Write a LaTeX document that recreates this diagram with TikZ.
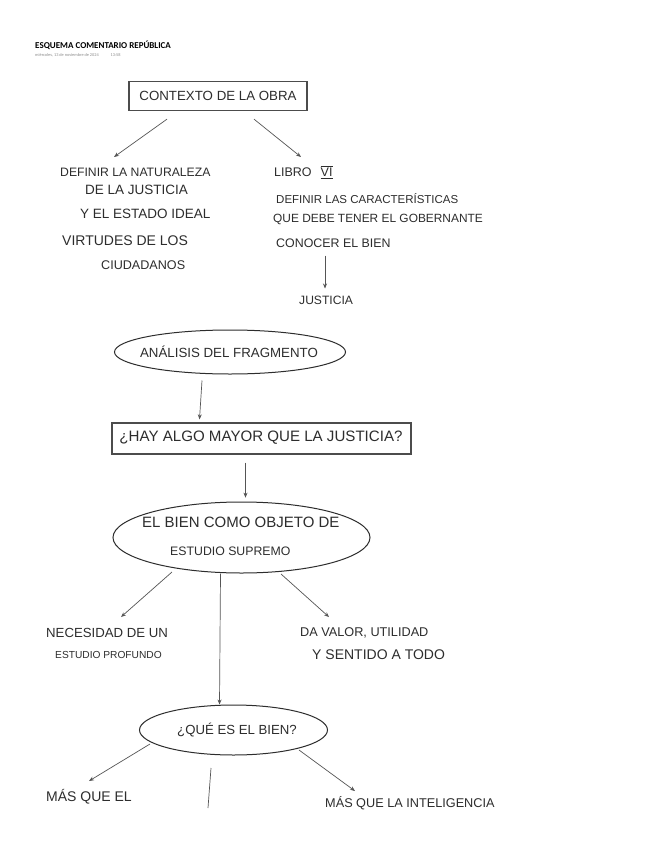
\documentclass[tikz,border=0pt]{standalone}
\usepackage{fontspec}
\setmainfont{Liberation Sans}
\newfontfamily\hdrfont{Carlito}
\usetikzlibrary{arrows.meta,shapes.geometric,calc}
\definecolor{ink}{RGB}{45,45,45}
\definecolor{lineink}{RGB}{85,85,85}
\begin{document}
\begin{tikzpicture}[x=1pt,y=-1pt,
  hand/.style={font=\fontsize{#1}{#1}\selectfont, text=ink, inner sep=0pt, anchor=west},
  hand/.default=12,
  conn/.style={draw=lineink, line width=0.7pt, -{Stealth[length=5pt,width=4pt]}},
  plain/.style={draw=lineink, line width=0.7pt},
  boxnode/.style={draw=ink!85, line width=1.3pt, inner sep=0pt},
  oval/.style={ellipse, draw=ink, line width=1pt, inner sep=0pt}]
\useasboundingbox[fill=white] (0,0) rectangle (655,848);

% header
\node[anchor=west, inner sep=0pt, font=\hdrfont\bfseries\fontsize{9}{9}\selectfont] (title) at (35,45) {ESQUEMA COMENTARIO REPÚBLICA};
\node[anchor=west, inner sep=0pt, text=black!45, font=\hdrfont\fontsize{4.3}{4.3}\selectfont] (date) at (35,55) {miércoles, 13 de noviembre de 2024\hspace{12pt}13:58};

% Contexto de la obra
\node[boxnode, minimum width=178, minimum height=29] (ctx) at (218,96) {};
\node[hand=13.3, anchor=center] (ctxt) at (218,96) {CONTEXTO DE LA OBRA};

\coordinate (lt) at (114,157);
\coordinate (rt) at (301,157);
\draw[conn] ($(ctx.south)+(-51,8)$) -- (lt);
\draw[conn] ($(ctx.south)+(36,8)$) -- (rt);

% left block
\node[hand=12.2] (defnat) at (60,172) {DEFINIR LA NATURALEZA};
\node[hand=13.5] (dejus) at (85,190) {DE LA JUSTICIA};
\node[hand=13.5] (yel) at (80,214) {Y EL ESTADO IDEAL};
\node[hand=14] (virt) at (62,241) {VIRTUDES DE LOS};
\node[hand=12.6] (ciud) at (101,265) {CIUDADANOS};

% right block
\node[hand=12.5] (libro) at (274,172) {LIBRO\hspace{9pt}\underline{$\overline{\hbox{VI}}$}};
\node[hand=11.5] (defcar) at (276,199) {DEFINIR LAS CARACTERÍSTICAS};
\node[hand=11.9] (que) at (273,219) {QUE DEBE TENER EL GOBERNANTE};
\node[hand=12.4] (conocer) at (276,243) {CONOCER EL BIEN};
\node[hand=12.1] (just) at (299,300) {JUSTICIA};
\draw[conn] ($(conocer.south west)+(49,8)$) -- ($(just.north west)+(26,-7)$);

% Analisis del fragmento
\node[oval, minimum width=231, minimum height=44] (ana) at (230,352) {};
\node[hand=13.3, anchor=center] (anat) at (229,352) {ANÁLISIS DEL FRAGMENTO};

% Hay algo mayor
\node[boxnode, minimum width=299, minimum height=31] (hay) at (261.5,438.5) {};
\node[hand=15.1, anchor=center] (hayt) at (261,438) {¿HAY ALGO MAYOR QUE LA JUSTICIA?};
\draw[conn] ($(ana.south)+(-28,6)$) -- ($(hay.north)+(-62,-3)$);
\draw[conn] ($(hay.south)+(-16,8)$) -- ($(hay.south)+(-16,43)$);

% El bien como objeto
\node[oval, minimum width=257, minimum height=71] (bien) at (241.5,537.5) {};
\node[hand=15] (bien1) at (142,522) {EL BIEN COMO OBJETO DE};
\node[hand=12.3] (bien2) at (170,551) {ESTUDIO SUPREMO};

% branches
\node[hand=13.2] (nec1) at (46,633) {NECESIDAD DE UN};
\node[hand=10.2] (nec2) at (55,655) {ESTUDIO PROFUNDO};
\node[hand=12.7] (da1) at (300,633) {DA VALOR, UTILIDAD};
\node[hand=14] (da2) at (312,655) {Y SENTIDO A TODO};
\coordinate (nt) at (121,617);
\coordinate (dt) at (329,617);
\draw[conn] (172,572) -- (nt);
\draw[conn] (281,574) -- (dt);

% Que es el bien
\node[oval, minimum width=188, minimum height=50] (qb) at (233.5,730) {};
\node[hand=13.2] (qbt) at (177,730) {¿QUÉ ES EL BIEN?};
\draw[conn] ($(bien.south)+(-21,0)$) -- ($(qb.north)+(-14,0)$);

\coordinate (m1) at (89,781);
\coordinate (m2) at (355,791);
\draw[conn] (150,744) -- (m1);
\draw[conn] (299,750) -- (m2);
\coordinate (vl1) at (211,768);
\coordinate (vl2) at (208,808);
\draw[plain] (vl1) -- (vl2);
\node[hand=14] (mas1) at (46,797) {MÁS QUE EL};
\node[hand=12.7] (mas2) at (325,803) {MÁS QUE LA INTELIGENCIA};
\end{tikzpicture}
\end{document}
